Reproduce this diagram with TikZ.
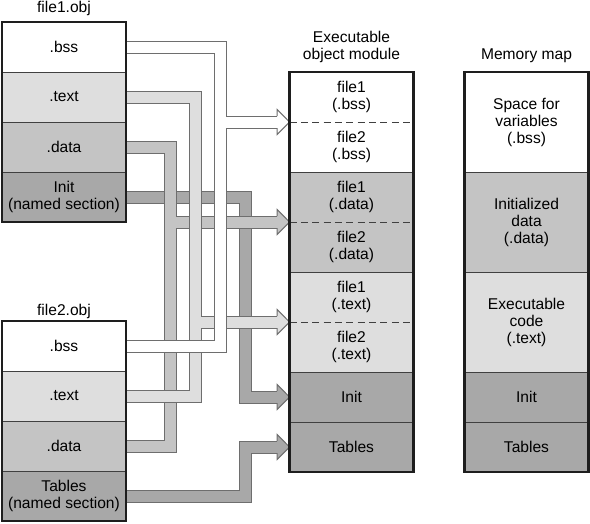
\documentclass[tikz,border=0pt]{standalone}
\usepackage{fontspec}
\setmainfont{Liberation Sans}
\usetikzlibrary{positioning,calc}

\definecolor{textgray}{HTML}{DEDEDE}
\definecolor{datagray}{HTML}{C4C4C4}
\definecolor{initgray}{HTML}{A8A8A8}
\definecolor{bandline}{HTML}{6E6E6E}
\definecolor{boxline}{HTML}{1E1E1E}

\begin{document}
\begin{tikzpicture}[x=0.03cm, y=-0.03cm,
    font=\fontsize{13.3}{14.5}\selectfont,
    title/.style={anchor=south, inner sep=0pt, align=center},
    sec/.style={minimum width=3.72cm, minimum height=1.5cm, inner sep=0pt, outer sep=0pt, align=center},
    bigsec/.style={sec, minimum height=3cm},
    band/.style={draw=bandline, line width=0.03cm, double distance=0.33cm},
    head/.style={draw=bandline, line width=0.03cm},
    sep/.style={draw=boxline!85, line width=0.03cm},
    dsep/.style={sep, dash pattern=on 6pt off 3.7pt},
    outline/.style={draw=boxline, line width=0.07cm}]
  \useasboundingbox (0,0) rectangle (590,523);

  % file1.obj
  \node[title] (f1title) at (64,15.8) {file1.obj};
  \node[sec, fill=white] (f1bss) at (64,47) {.bss};
  \node[sec, fill=textgray, below=0pt of f1bss] (f1text) {.text};
  \node[sec, fill=datagray, below=0pt of f1text] (f1data) {.data};
  \node[sec, fill=initgray, below=0pt of f1data] (f1init) {Init\\(named section)};

  % file2.obj
  \node[title] (f2title) at (64,318.5) {file2.obj};
  \node[sec, fill=white] (f2bss) at (64,346) {.bss};
  \node[sec, fill=textgray, below=0pt of f2bss] (f2text) {.text};
  \node[sec, fill=datagray, below=0pt of f2text] (f2data) {.data};
  \node[sec, fill=initgray, below=0pt of f2data] (f2tables) {Tables\\(named section)};

  % executable object module
  \node[title] (xtitle) at (351.5,62.5) {Executable\\object module};
  \node[sec, fill=white] (xf1bss) at (351.5,97) {file1\\(.bss)};
  \node[sec, fill=white, below=0pt of xf1bss] (xf2bss) {file2\\(.bss)};
  \node[sec, fill=datagray, below=0pt of xf2bss] (xf1data) {file1\\(.data)};
  \node[sec, fill=datagray, below=0pt of xf1data] (xf2data) {file2\\(.data)};
  \node[sec, fill=textgray, below=0pt of xf2data] (xf1text) {file1\\(.text)};
  \node[sec, fill=textgray, below=0pt of xf1text] (xf2text) {file2\\(.text)};
  \node[sec, fill=initgray, below=0pt of xf2text] (xinit) {Init};
  \node[sec, fill=initgray, below=0pt of xinit] (xtables) {Tables};

  % memory map
  \node[title] (mtitle) at (526.5,62.5) {Memory map};
  \node[bigsec, fill=white] (mbss) at (526.5,122) {Space for\\variables\\(.bss)};
  \node[bigsec, fill=datagray, below=0pt of mbss] (mdata) {Initialized\\data\\(.data)};
  \node[bigsec, fill=textgray, below=0pt of mdata] (mtext) {Executable\\code\\(.text)};
  \node[sec, fill=initgray, below=0pt of mtext] (minit) {Init};
  \node[sec, fill=initgray, below=0pt of minit] (mtables) {Tables};

  % channels
  \coordinate (cdata) at (170,0);
  \coordinate (ctext) at (195.5,0);
  \coordinate (cbss) at (220.5,0);
  \coordinate (cinit) at (245.2,0);

  % Init and Tables
  \draw[band, double=initgray] (f1init.east) -| (cinit |- xinit.west) -- ($(xinit.west)+(-11.8,0)$)
    (f2tables.east) -| (cinit |- xtables.west) -- ($(xtables.west)+(-11.8,0)$);
  \filldraw[head, fill=initgray, shift={(xinit.west)}] (-12.3,-6) -- (-12.3,-12.5) -- (0,0) -- (-12.3,12.5) -- (-12.3,6);
  \filldraw[head, fill=initgray, shift={(xtables.west)}] (-12.3,-6) -- (-12.3,-12.5) -- (0,0) -- (-12.3,12.5) -- (-12.3,6);

  % .data
  \draw[band, double=datagray] (f1data.east) -| (cdata |- xf2data.north west) -- ($(xf2data.north west)+(-11.8,0)$)
    (f2data.east) -| (cdata |- xf2data.north west);
  \filldraw[head, fill=datagray, shift={(xf2data.north west)}] (-12.3,-6) -- (-12.3,-12.5) -- (0,0) -- (-12.3,12.5) -- (-12.3,6);

  % .text
  \draw[band, double=textgray] (f1text.east) -| (ctext |- xf2text.north west) -- ($(xf2text.north west)+(-11.8,0)$)
    (f2text.east) -| (ctext |- xf2text.north west);
  \filldraw[head, fill=textgray, shift={(xf2text.north west)}] (-12.3,-6) -- (-12.3,-12.5) -- (0,0) -- (-12.3,12.5) -- (-12.3,6);

  % .bss
  \draw[band, double=white] (f1bss.east) -| (cbss |- xf2bss.north west) -- ($(xf2bss.north west)+(-11.8,0)$)
    (f2bss.east) -| (cbss |- xf2bss.north west);
  \filldraw[head, fill=white, shift={(xf2bss.north west)}] (-12.3,-6) -- (-12.3,-12.5) -- (0,0) -- (-12.3,12.5) -- (-12.3,6);

  % section borders
  \foreach \n in {f1bss,f1text,f1data,f2bss,f2text,f2data,xf2bss,xf2data,xf2text,xinit,mbss,mdata,mtext,minit}
    \draw[sep] (\n.south west) -- (\n.south east);
  \foreach \n in {xf1bss,xf1data,xf1text}
    \draw[dsep] (\n.south west) -- (\n.south east);
  \draw[outline] (f1bss.north west) rectangle (f1init.south east);
  \draw[outline] (f2bss.north west) rectangle (f2tables.south east);
  \draw[outline] (xf1bss.north west) rectangle (xtables.south east);
  \draw[outline] (mbss.north west) rectangle (mtables.south east);
\end{tikzpicture}
\end{document}
